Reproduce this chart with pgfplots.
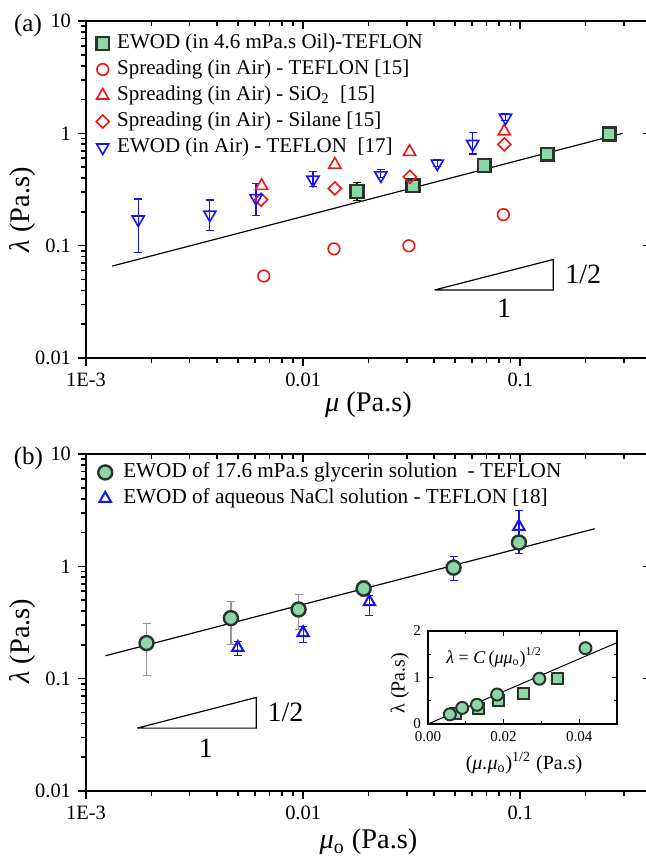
\documentclass[border=0pt]{standalone}
\usepackage{fontspec}
\setmainfont{Liberation Serif}
\usepackage{pgfplots}
\pgfplotsset{compat=1.18}

\definecolor{mint}{RGB}{140,214,168}
\definecolor{edge}{RGB}{40,52,44}
\definecolor{ered}{RGB}{240,20,20}
\definecolor{eblue}{RGB}{20,20,245}
\definecolor{ebar}{RGB}{150,150,150}

\begin{document}
\begin{tikzpicture}
% ---------- panel (b) ----------
\begin{axis}[name=b, at={(0,0)}, anchor=south west,
  scale only axis, width=282.5pt, height=168.5pt,
  xmode=log, ymode=log, xmin=1e-3, xmax=0.4, ymin=0.01, ymax=10,
  axis line style={line width=1pt},
  xtick={0.001,0.01,0.1}, xticklabels={1E-3,0.01,0.1},
  ytick={0.01,0.1,1,10}, yticklabels={0.01,0.1,1,10},
  minor xtick={0.002,0.003,0.004,0.005,0.006,0.007,0.008,0.009,
    0.02,0.03,0.04,0.05,0.06,0.07,0.08,0.09,0.2,0.3,0.4},
  minor ytick={0.02,0.03,0.04,0.05,0.06,0.07,0.08,0.09,
    0.2,0.3,0.4,0.5,0.6,0.7,0.8,0.9,2,3,4,5,6,7,8,9},
  tick align=outside, xtick pos=left, ytick pos=left,
  major tick length=4pt, minor tick length=2.3pt,
  tick style={black, line width=0.8pt},
  tick label style={font=\fontsize{10.2}{12}\selectfont},
  every axis label/.append style={font=\fontsize{14.2}{16}\selectfont},
  clip=false,
  legend style={draw=none, fill=none, inner sep=0pt,
    at={(axis description cs:0.021,0.985)}, anchor=north west,
    font=\fontsize{10.6}{12.5}\selectfont, row sep=0pt,
    /tikz/every odd column/.append style={column sep=4pt},
    nodes={inner sep=1.5pt, text height=7.5pt, text depth=2.5pt}},
  legend cell align=left,
  xlabel={\textit{μ}\textsubscript{o} (Pa.s)},
  ylabel={\textit{λ} (Pa.s)},
  xlabel style={at={(axis description cs:0.5,-0.151)}, anchor=center},
  ylabel style={at={(axis description cs:-0.112,0.445)}, anchor=center}]
\addlegendimage{only marks, mark=*, mark size=3.5pt,
  mark options={fill=mint, draw=edge, line width=1.2pt}}
\addlegendentry{EWOD of 17.6 mPa.s glycerin solution \ - TEFLON}
\addlegendimage{only marks, mark=triangle, mark size=3.3pt,
  mark options={draw=eblue, line width=1pt}}
\addlegendentry{EWOD of aqueous NaCl solution - TEFLON [18]}

\addplot[black, line width=0.6pt, forget plot] coordinates {(0.00123,0.16) (0.22,2.16)};
\addplot[black, line width=0.6pt, forget plot] coordinates {
  (0.00172,0.0363) (0.00608,0.0363) (0.00608,0.068) (0.00172,0.0363)};
\addplot[forget plot, only marks, mark=triangle, mark size=3.3pt,
  mark options={draw=eblue, line width=1pt},
  error bars/.cd, y dir=both, y explicit,
  error bar style={eblue, line width=0.6pt},
  error mark options={eblue, mark size=2pt, line width=0.6pt, rotate=90}]
  coordinates {
  (0.005,0.189) += (0,0.024) -= (0,0.028)
  (0.01,0.256) += (0,0.034) -= (0,0.047)
  (0.0202,0.483) += (0,0.07) -= (0,0.115)
  (0.0493,1.0) += (0,0.23) -= (0,0.25)
  (0.0986,2.26) += (0,0.88) -= (0,0.95)
};
\addplot[forget plot, only marks, mark=*, mark size=3.5pt,
  mark options={fill=mint, draw=edge, line width=1.2pt},
  error bars/.cd, y dir=both, y explicit,
  error bar style={ebar, line width=0.6pt},
  error mark options={ebar, mark size=2pt, line width=0.6pt, rotate=90}]
  coordinates {
  (0.0019,0.2075) += (0,0.1025) -= (0,0.1015)
  (0.00465,0.346) += (0,0.137) -= (0,0.146)
  (0.00953,0.413) += (0,0.144) -= (0,0.139)
  (0.019,0.634) += (0,0.116) -= (0,0.099)
  (0.0493,0.973) += (0,0) -= (0,0)
  (0.0986,1.63) += (0,0) -= (0,0)
};
\node[font=\fontsize{14}{16}\selectfont] at (axis cs:0.0083,0.0504) {1/2};
\node[font=\fontsize{14}{16}\selectfont] at (axis cs:0.00357,0.0242) {1};
\node[font=\fontsize{12.5}{14}\selectfont] at (axis description cs:-0.102,0.988) {(b)};
\end{axis}
% mirrored ticks (top, right) of panel (b)
\begin{axis}[at={(0,0)}, anchor=south west,
  scale only axis, width=282.5pt, height=168.5pt,
  xmode=log, ymode=log, xmin=1e-3, xmax=0.4, ymin=0.01, ymax=10,
  axis line style={line width=1pt},
  xtick={0.001,0.01,0.1}, xticklabels={}, ytick={0.01,0.1,1,10}, yticklabels={},
  minor xtick={0.002,0.003,0.004,0.005,0.006,0.007,0.008,0.009,
    0.02,0.03,0.04,0.05,0.06,0.07,0.08,0.09,0.2,0.3,0.4},
  minor ytick={0.02,0.03,0.04,0.05,0.06,0.07,0.08,0.09,
    0.2,0.3,0.4,0.5,0.6,0.7,0.8,0.9,2,3,4,5,6,7,8,9},
  tick align=inside, xtick pos=right, ytick pos=right,
  major tick length=4pt, minor tick length=2.3pt,
  tick style={black, line width=0.8pt}]
\addplot[draw=none, forget plot] coordinates {(0.01,1)};
\end{axis}

% ---------- inset ----------
\begin{axis}[at={(171pt,33.5pt)}, anchor=south west, scale only axis,
  width=94.5pt, height=46.5pt,
  xmin=0, xmax=0.05, ymin=0, ymax=2, scaled x ticks=false,
  xtick={0,0.02,0.04}, xticklabels={0.00,0.02,0.04}, minor xtick={0.01,0.03,0.05},
  ytick={0,1,2}, yticklabels={0,1,2}, minor ytick={0.5,1.5},
  tick align=inside, major tick length=2.5pt, minor tick length=1.5pt,
  axis line style={line width=0.6pt}, tick style={black, line width=0.5pt},
  tick label style={font=\fontsize{7.5}{8.5}\selectfont},
  every axis label/.append style={font=\fontsize{10}{11}\selectfont},
  xlabel={(\textit{μ.μ}\textsubscript{o})\textsuperscript{1/2} (Pa.s)},
  ylabel={λ (Pa.s)},
  xlabel style={at={(axis description cs:0.508,-0.42)}, anchor=center},
  ylabel style={at={(axis description cs:-0.15,0.44)}, anchor=center},
  clip=false]
\addplot[black, line width=0.5pt] coordinates {(0,0) (0.05,1.75)};
\addplot[only marks, mark=square*, mark size=2.7pt,
  mark options={fill=mint, draw=edge, line width=1pt}] coordinates {
  (0.0072,0.23) (0.0133,0.33) (0.0187,0.51) (0.0253,0.652) (0.0343,0.98)};
\addplot[only marks, mark=*, mark size=3pt,
  mark options={fill=mint, draw=edge, line width=1pt}] coordinates {
  (0.00578,0.2075) (0.00905,0.346) (0.01295,0.413) (0.01829,0.634)
  (0.02946,0.973) (0.04166,1.63)};
\node[anchor=west, font=\fontsize{9}{10}\selectfont] at (axis cs:0.003,1.43)
  {\textit{λ} = \textit{C}\,(\textit{μμ}\textsubscript{o})\textsuperscript{1/2}};
\end{axis}

% ---------- panel (a) ----------
\begin{axis}[at={(0,216.5pt)}, anchor=south west,
  scale only axis, width=282.5pt, height=168.5pt,
  xmode=log, ymode=log, xmin=1e-3, xmax=0.4, ymin=0.01, ymax=10,
  axis line style={line width=1pt},
  xtick={0.001,0.01,0.1}, xticklabels={1E-3,0.01,0.1},
  ytick={0.01,0.1,1,10}, yticklabels={0.01,0.1,1,10},
  minor xtick={0.002,0.003,0.004,0.005,0.006,0.007,0.008,0.009,
    0.02,0.03,0.04,0.05,0.06,0.07,0.08,0.09,0.2,0.3,0.4},
  minor ytick={0.02,0.03,0.04,0.05,0.06,0.07,0.08,0.09,
    0.2,0.3,0.4,0.5,0.6,0.7,0.8,0.9,2,3,4,5,6,7,8,9},
  tick align=outside, xtick pos=left, ytick pos=left,
  major tick length=4pt, minor tick length=2.3pt,
  tick style={black, line width=0.8pt},
  tick label style={font=\fontsize{10.2}{12}\selectfont},
  every axis label/.append style={font=\fontsize{14.2}{16}\selectfont},
  clip=false,
  legend style={draw=none, fill=none, inner sep=0pt,
    at={(axis description cs:0.0174,0.973)}, anchor=north west,
    font=\fontsize{10.5}{12.5}\selectfont, row sep=0pt,
    /tikz/every odd column/.append style={column sep=2.5pt},
    nodes={inner sep=1.5pt, text height=7.5pt, text depth=2.5pt}},
  legend cell align=left,
  xlabel={\textit{μ} (Pa.s)},
  ylabel={\textit{λ} (Pa.s)},
  xlabel style={at={(axis description cs:0.5,-0.139)}, anchor=center},
  ylabel style={at={(axis description cs:-0.112,0.44)}, anchor=center}]
\addplot[black, line width=0.6pt, forget plot] coordinates {(0.00132,0.0658) (0.296,1.0)};
\addplot[black, line width=0.6pt, forget plot] coordinates {
  (0.0403,0.0403) (0.142,0.0403) (0.142,0.0754) (0.0403,0.0403)};
\addplot[only marks, mark=square*, mark size=3.2pt,
  mark options={fill=mint, draw=edge, line width=1.2pt},
  error bars/.cd, y dir=both, y explicit,
  error bar style={black, line width=0.6pt},
  error mark options={black, mark size=2pt, line width=0.6pt, rotate=90}]
  coordinates {
  (0.0177,0.304) += (0,0.06) -= (0,0.05)
  (0.0321,0.341) += (0,0) -= (0,0)
  (0.0683,0.517) += (0,0) -= (0,0)
  (0.133,0.651) += (0,0) -= (0,0)
  (0.257,0.986) += (0,0) -= (0,0)
};
\addlegendentry{EWOD (in 4.6 mPa.s Oil)-TEFLON}
\addplot[only marks, mark=o, mark size=2.9pt,
  mark options={draw=ered, line width=0.8pt}] coordinates {
  (0.00659,0.0537) (0.01387,0.0937) (0.0307,0.0997) (0.0836,0.189)};
\addlegendentry{Spreading (in Air) - TEFLON [15]}
\addplot[only marks, mark=triangle, mark size=3.5pt,
  mark options={draw=ered, line width=0.8pt}] coordinates {
  (0.00644,0.341) (0.014,0.527) (0.0309,0.684) (0.0844,1.04)};
\addlegendentry{Spreading (in Air) - SiO\textsubscript{2}\ \ [15]}
\addplot[only marks, mark=square, mark size=2.3pt,
  mark options={draw=ered, line width=0.8pt, rotate=45}] coordinates {
  (0.0064,0.257) (0.014,0.323) (0.031,0.41) (0.0845,0.799)};
\addlegendentry{Spreading (in Air) - Silane [15]}
\addplot[only marks, mark=triangle, mark size=3.5pt,
  mark options={draw=eblue, line width=0.8pt, rotate=180},
  error bars/.cd, y dir=both, y explicit,
  error bar style={eblue, line width=0.6pt},
  error mark options={eblue, mark size=2pt, line width=0.6pt, rotate=90}]
  coordinates {
  (0.00174,0.171) += (0,0.089) -= (0,0.0835)
  (0.00372,0.189) += (0,0.066) -= (0,0.053)
  (0.00607,0.265) += (0,0.095) -= (0,0.08)
  (0.0111,0.386) += (0,0.071) -= (0,0.049)
  (0.0228,0.422) += (0,0.051) -= (0,0.02)
  (0.0415,0.538) += (0,0.042) -= (0,0.03)
  (0.0604,0.804) += (0,0.206) -= (0,0.148)
  (0.0855,1.377) += (0,0.12) -= (0,0.08)
};
\addlegendentry{EWOD (in Air) - TEFLON\ \ [17]}
\node[font=\fontsize{14}{16}\selectfont] at (axis cs:0.195,0.0555) {1/2};
\node[font=\fontsize{14}{16}\selectfont] at (axis cs:0.0843,0.0275) {1};
\node[font=\fontsize{12.5}{14}\selectfont] at (axis description cs:-0.1027,0.988) {(a)};
\end{axis}
% mirrored ticks (top, right) of panel (a)
\begin{axis}[at={(0,216.5pt)}, anchor=south west,
  scale only axis, width=282.5pt, height=168.5pt,
  xmode=log, ymode=log, xmin=1e-3, xmax=0.4, ymin=0.01, ymax=10,
  axis line style={line width=1pt},
  xtick={0.001,0.01,0.1}, xticklabels={}, ytick={0.01,0.1,1,10}, yticklabels={},
  minor xtick={0.002,0.003,0.004,0.005,0.006,0.007,0.008,0.009,
    0.02,0.03,0.04,0.05,0.06,0.07,0.08,0.09,0.2,0.3,0.4},
  minor ytick={0.02,0.03,0.04,0.05,0.06,0.07,0.08,0.09,
    0.2,0.3,0.4,0.5,0.6,0.7,0.8,0.9,2,3,4,5,6,7,8,9},
  tick align=inside, xtick pos=right, ytick pos=right,
  major tick length=4pt, minor tick length=2.3pt,
  tick style={black, line width=0.8pt}]
\addplot[draw=none, forget plot] coordinates {(0.01,1)};
\end{axis}

\pgfresetboundingbox
\useasboundingbox (-43pt,-33.5pt) rectangle (280pt,395.5pt);
\end{tikzpicture}
\end{document}
